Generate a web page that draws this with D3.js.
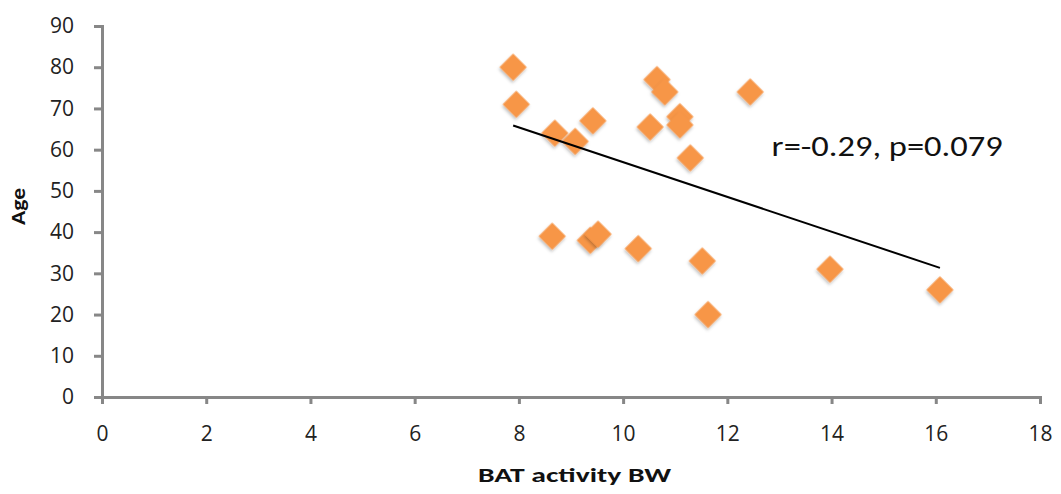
<!DOCTYPE html>
<html>
<head>
<meta charset="utf-8">
<script src="https://cdn.jsdelivr.net/npm/d3@7"></script>
<style>
  body { margin: 0; background: #fff; }
  text { font-family: Calibri, Carlito, Lato, sans-serif; }
</style>
</head>
<body>
<svg class="chart" width="1061" height="494"></svg>
<script>
const svg = d3.select('.chart')
const width = +svg.attr('width')
const height = +svg.attr('height')
const margin = {top:26, right:21, bottom:97, left:102}
const innerWidth = width - margin.left - margin.right
const innerHeight = height - margin.top - margin.bottom

// BAT activity BW (x) vs Age (y)
const batActivity = [7.89, 7.95, 8.69, 9.08, 9.42, 10.65, 10.8, 10.52, 11.09, 11.09,
  11.29, 12.44, 8.64, 9.37, 9.52, 10.29, 11.52, 11.63, 13.97, 16.08]
const ages = [80, 71, 64, 62, 67, 77, 74, 65.5, 68, 66,
  58, 74, 39, 38, 39.5, 36, 33, 20, 31, 26]
const xTicks = [0, 2, 4, 6, 8, 10, 12, 14, 16, 18]
const yTicks = [0, 10, 20, 30, 40, 50, 60, 70, 80, 90]
const statLabel = 'r=-0.29, p=0.079'

const points = batActivity.map((x, i) => ({x: x, y: ages[i]}))

const xScale = d3.scaleLinear().domain([0, 18]).range([0, innerWidth])
const yScale = d3.scaleLinear().domain([0, 90]).range([innerHeight, 0])

const g = svg.append('g')
  .attr('transform', `translate(${margin.left},${margin.top})`)

const axisColor = '#878787'
const tickFont = '"Open Sans", Lato, sans-serif'

const yAxis = g.append('g')
  .call(d3.axisLeft(yScale).tickValues(yTicks).tickSize(8).tickPadding(20))
yAxis.attr('font-family', tickFont).attr('font-size', 21)
yAxis.select('.domain').attr('stroke', axisColor).attr('stroke-width', 3)
yAxis.selectAll('.tick line').attr('stroke', axisColor).attr('stroke-width', 3)
yAxis.selectAll('.tick text').attr('fill', '#222').style('font-family', tickFont)

const xAxis = g.append('g')
  .attr('transform', `translate(0,${innerHeight})`)
  .call(d3.axisBottom(xScale).tickValues(xTicks).tickSize(7).tickPadding(22))
xAxis.attr('font-family', tickFont).attr('font-size', 21)
xAxis.select('.domain').attr('stroke', axisColor).attr('stroke-width', 3)
xAxis.selectAll('.tick line').attr('stroke', axisColor).attr('stroke-width', 3)
xAxis.selectAll('.tick text').attr('fill', '#222').style('font-family', tickFont)

// soft shadow like the office chart markers
const defs = svg.append('defs')
const f = defs.append('filter').attr('id', 'shadow')
  .attr('x', '-50%').attr('y', '-50%').attr('width', '200%').attr('height', '200%')
f.append('feDropShadow').attr('dx', 1).attr('dy', 2).attr('stdDeviation', 1.5)
  .attr('flood-color', '#000').attr('flood-opacity', 0.25)

const diamond = d3.symbol().type(d3.symbolSquare).size(370)

g.selectAll('path.pt')
  .data(points)
  .enter()
  .append('path')
  .attr('class', 'pt')
  .attr('d', diamond)
  .attr('transform', d => `translate(${xScale(d.x)},${yScale(d.y)}) rotate(45)`)
  .attr('fill', '#F79646')
  .attr('filter', 'url(#shadow)')

// least squares trend line over the data range
const mx = d3.mean(points, d => d.x)
const my = d3.mean(points, d => d.y)
const slope = d3.sum(points, d => (d.x - mx) * (d.y - my)) / d3.sum(points, d => (d.x - mx) ** 2)
const intercept = my - slope * mx
const xExt = d3.extent(points, d => d.x)
const trend = xExt.map(x => ({x: x, y: intercept + slope * x}))

g.append('path')
  .datum(trend)
  .attr('d', d3.line().x(d => xScale(d.x)).y(d => yScale(d.y)))
  .attr('stroke', '#000')
  .attr('stroke-width', 2)
  .attr('fill', 'none')

g.append('text')
  .attr('x', xScale(12.85))
  .attr('y', yScale(58.5))
  .attr('font-size', 29)
  .attr('textLength', 231)
  .attr('lengthAdjust', 'spacingAndGlyphs')
  .attr('fill', '#111')
  .text(statLabel)

g.append('text')
  .attr('x', 478 - margin.left)
  .attr('y', innerHeight + 85)
  .attr('font-size', 21)
  .attr('font-weight', 'bold')
  .attr('textLength', 193)
  .attr('lengthAdjust', 'spacingAndGlyphs')
  .attr('fill', '#111')
  .text('BAT activity BW')

g.append('text')
  .attr('transform', `translate(${25 - margin.left},${225 - margin.top}) rotate(-90)`)
  .attr('font-size', 21)
  .attr('font-weight', 'bold')
  .attr('textLength', 37)
  .attr('lengthAdjust', 'spacingAndGlyphs')
  .attr('fill', '#111')
  .text('Age')
</script>
</body>
</html>
